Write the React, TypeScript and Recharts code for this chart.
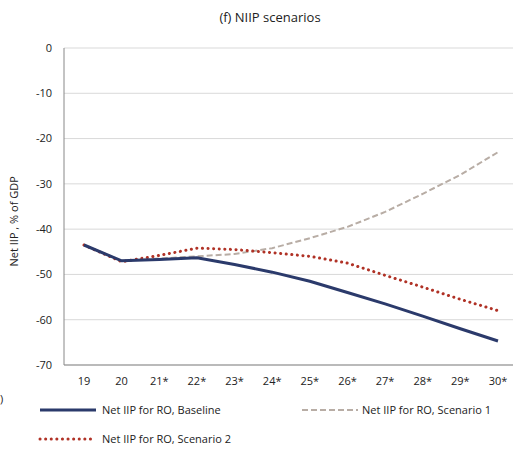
import React from 'react';
import { LineChart, Line, XAxis, YAxis, CartesianGrid } from 'recharts';

const categories = ['19', '20', '21*', '22*', '23*', '24*', '25*', '26*', '27*', '28*', '29*', '30*'];
const baseline = [-43.5, -47, -46.7, -46.3, -47.8, -49.5, -51.5, -54, -56.5, -59.2, -62, -64.7];
const scenario1 = [-43.5, -47, -46.5, -46, -45.5, -44.2, -42, -39.5, -36.2, -32.2, -28, -23];
const scenario2 = [-43.5, -47.2, -45.8, -44.2, -44.5, -45.2, -46, -47.5, -50.2, -52.8, -55.5, -58];
const yTicks = [0, -10, -20, -30, -40, -50, -60, -70];

const data = categories.map((c, i) => ({ c, b: baseline[i], s1: scenario1[i], s2: scenario2[i] }));
const font = 'Open Sans, Liberation Sans, sans-serif';

export default function App() {
  return (
    <div style={{ position: 'absolute', left: 0, top: 0, width: 513, height: 450, background: '#fff', fontFamily: font }}>
      <div style={{ position: 'absolute', top: 8, left: 0, width: 540, textAlign: 'center', fontSize: 13, color: '#222' }}>(f) NIIP scenarios</div>
      <LineChart width={513} height={450} data={data} margin={{ top: 48, right: 0, bottom: 55, left: 0 }}>
        <CartesianGrid vertical={false} stroke="#d9d9d9" />
        <XAxis dataKey="c" padding={{ left: 20, right: 15 }} tickLine={false} axisLine={{ stroke: '#888' }}
          tick={{ fontSize: 11, fill: '#222', fontFamily: font }} tickMargin={6} interval={0} />
        <YAxis width={64} domain={[-70, 0]} ticks={yTicks} tickLine={false} axisLine={{ stroke: '#888' }}
          tick={{ fontSize: 11, fill: '#222', fontFamily: font }} tickMargin={6}
          label={{ value: 'Net IIP , % of GDP', angle: -90, position: 'insideLeft', offset: 14, dy: 60, style: { fontSize: 11, fill: '#222', fontFamily: font } }} />
        <Line dataKey="s1" stroke="#b8ada5" strokeWidth={2} strokeDasharray="6 3" dot={false} isAnimationActive={false} />
        <Line dataKey="s2" stroke="#b03226" strokeWidth={3} strokeDasharray="0.1 5.5" strokeLinecap="round" dot={false} isAnimationActive={false} />
        <Line dataKey="b" stroke="#2b3a6b" strokeWidth={3} dot={false} isAnimationActive={false} />
      </LineChart>
      <svg style={{ position: 'absolute', left: 0, top: 395 }} width={513} height={55}>
        <line x1={40} x2={96} y1={15} y2={15} stroke="#2b3a6b" strokeWidth={3} />
        <text x={102} y={19} fontSize={11} fill="#222" fontFamily={font}>Net IIP for RO, Baseline</text>
        <line x1={302} x2={358} y1={15} y2={15} stroke="#b8ada5" strokeWidth={2} strokeDasharray="6 3" />
        <text x={362} y={19} fontSize={11} fill="#222" fontFamily={font}>Net IIP for RO, Scenario 1</text>
        <line x1={40} x2={96} y1={44} y2={44} stroke="#b03226" strokeWidth={3} strokeDasharray="0.1 5.5" strokeLinecap="round" />
        <text x={102} y={48} fontSize={11} fill="#222" fontFamily={font}>Net IIP for RO, Scenario 2</text>
        <text x={0} y={8} fontSize={11} fill="#222" fontFamily={font}>)</text>
      </svg>
    </div>
  );
}
